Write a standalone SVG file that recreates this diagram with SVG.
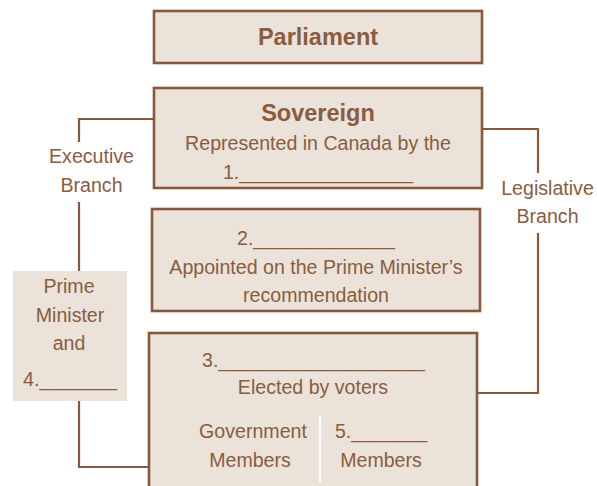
<svg xmlns="http://www.w3.org/2000/svg" width="597" height="486" viewBox="0 0 597 486">
<style>
.box{fill:#ebe2d9;stroke:#87583a;stroke-width:2.6}
.pm{fill:#ebe2d9}
.conn{fill:none;stroke:#87583a;stroke-width:2.2}
text{font-family:"Liberation Sans",Arial,sans-serif;fill:#8a5c3f;text-anchor:middle;font-size:19.6px}
.b{font-weight:bold;font-size:23.5px}
</style>
<rect width="597" height="486" fill="#ffffff"/>
<g id="connectors">
<polyline class="conn" points="79,142 79,119 154,119"/>
<polyline class="conn" points="79,202 79,271"/>
<polyline class="conn" points="79,401 79,467 149,467"/>
<polyline class="conn" points="482,129 538,129 538,173"/>
<polyline class="conn" points="538,233 538,393 477,393"/>
</g>
<g id="parliament">
<rect class="box" x="154" y="11" width="328" height="52"/>
<text class="b" x="318" y="45">Parliament</text>
</g>
<g id="sovereign">
<rect class="box" x="154" y="88" width="328" height="100"/>
<text class="b" x="318" y="121">Sovereign</text>
<text x="318" y="150">Represented in Canada by the</text>
<text x="318" y="179" textLength="190" lengthAdjust="spacingAndGlyphs">1.________________</text>
</g>
<g id="senate">
<rect class="box" x="152" y="209" width="328" height="102"/>
<text x="316" y="245" textLength="158" lengthAdjust="spacingAndGlyphs">2._____________</text>
<text x="316" y="274">Appointed on the Prime Minister’s</text>
<text x="316" y="302">recommendation</text>
</g>
<g id="commons">
<rect class="box" x="149" y="333" width="328" height="170"/>
<text x="313.5" y="367" textLength="223" lengthAdjust="spacingAndGlyphs">3.___________________</text>
<text x="313" y="394">Elected by voters</text>
<line x1="320" y1="417" x2="320" y2="482" stroke="#ffffff" stroke-width="2.2"/>
<text x="253" y="438">Government</text>
<text x="250" y="467">Members</text>
<text x="381" y="438" textLength="92" lengthAdjust="spacingAndGlyphs">5._______</text>
<text x="381" y="467">Members</text>
</g>
<g id="prime-minister">
<rect class="pm" x="13" y="271" width="114" height="130"/>
<text x="69" y="293">Prime</text>
<text x="70" y="322">Minister</text>
<text x="69" y="350">and</text>
<text x="70" y="386" textLength="94" lengthAdjust="spacingAndGlyphs">4._______</text>
</g>
<g id="executive-label">
<text x="91.5" y="163">Executive</text>
<text x="91.5" y="192">Branch</text>
</g>
<g id="legislative-label">
<text x="547.5" y="195">Legislative</text>
<text x="547.5" y="223">Branch</text>
</g>
</svg>
